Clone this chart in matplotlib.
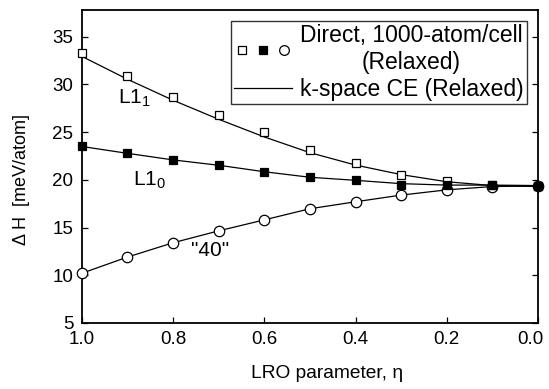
import matplotlib
matplotlib.use("Agg")
import matplotlib.pyplot as plt
from matplotlib.lines import Line2D
from matplotlib.legend_handler import HandlerTuple
import matplotlib.transforms as mtransforms

plt.rcParams['font.family'] = ['Liberation Sans', 'DejaVu Sans']
plt.rcParams['mathtext.fontset'] = 'custom'
plt.rcParams['mathtext.rm'] = 'Liberation Sans'
plt.rcParams['mathtext.it'] = 'Liberation Sans:italic'

eta = [1.0, 0.9, 0.8, 0.7, 0.6, 0.5, 0.4, 0.3, 0.2, 0.1, 0.0]
l11_direct = [33.25, 30.9, 28.64, 26.83, 24.98, 23.14, 21.8, 20.55, 19.85, 19.45, 19.35]
l11_ce = [32.95, 30.55, 28.35, 26.35, 24.5, 22.85, 21.55, 20.55, 19.8, 19.4, 19.3]
l10_direct = [23.5, 22.78, 22.09, 21.53, 20.85, 20.27, 19.95, 19.5, 19.45, 19.5, 19.4]
l10_ce = [23.5, 22.78, 22.09, 21.53, 20.85, 20.27, 19.95, 19.6, 19.45, 19.45, 19.4]
c40_direct = [10.2, 11.9, 13.4, 14.65, 15.8, 16.97, 17.7, 18.4, 18.95, 19.3, 19.35]
c40_ce = [10.2, 11.9, 13.4, 14.65, 15.8, 16.97, 17.7, 18.4, 18.95, 19.3, 19.35]

xticks = [1.0, 0.8, 0.6, 0.4, 0.2, 0.0]
yticks = [5, 10, 15, 20, 25, 30, 35]

fig = plt.figure(figsize=(5.49, 3.89), dpi=100)
ax = fig.add_axes([0.149, 0.170, 0.831, 0.804])

lw = 0.9
ax.plot(eta, l11_ce, color='black', lw=lw, zorder=2)
ax.plot(eta, l10_ce, color='black', lw=lw, zorder=2)
ax.plot(eta, c40_ce, color='black', lw=lw, zorder=2)

ax.plot(eta, c40_direct, ls='none', marker='o', ms=7.5, mfc='white', mec='black',
        mew=0.9, zorder=3, clip_on=False)
ax.plot(eta, l11_direct, ls='none', marker='s', ms=6.2, mfc='white', mec='black',
        mew=0.9, zorder=4, clip_on=False)
ax.plot(eta, l10_direct, ls='none', marker='s', ms=6.2, mfc='black', mec='black',
        mew=0.9, zorder=5, clip_on=False)

ax.set_xlim(1.0, 0.0)
ax.set_ylim(5, 37.8)
ax.set_xticks(xticks)
ax.set_xticklabels([f"{v:.1f}" for v in xticks])
ax.set_yticks(yticks)
ax.tick_params(direction='in', length=4, width=0.9, labelsize=13.5,
               right=True, top=False, pad=6)
for s in ax.spines.values():
    s.set_linewidth(1.3)

# shift last x tick label left so it stays within the figure
lbls = ax.get_xticklabels()
off = mtransforms.ScaledTranslation(-8 / 100, 0, fig.dpi_scale_trans)
lbls[-1].set_transform(lbls[-1].get_transform() + off)

ax.set_xlabel('LRO parameter, η', fontsize=13.8)
ax.set_ylabel('Δ H  [meV/atom]', fontsize=13)
ax.xaxis.set_label_coords(0.537, -0.135)
ax.yaxis.set_label_coords(-0.113, 0.46)

ax.text(0.921, 28.5, 'L1$_1$', fontsize=15, ha='left', va='center')
ax.text(0.888, 19.9, 'L1$_0$', fontsize=15, ha='left', va='center')
ax.text(0.761, 12.6, '"40"', fontsize=15, ha='left', va='center')

h_sq = Line2D([], [], ls='none', marker='s', ms=6.2, mfc='white', mec='black', mew=0.9)
h_fs = Line2D([], [], ls='none', marker='s', ms=6.2, mfc='black', mec='black', mew=0.9)
h_ci = Line2D([], [], ls='none', marker='o', ms=7, mfc='white', mec='black', mew=0.9)
h_ln = Line2D([], [], color='black', lw=lw)
leg = ax.legend([(h_sq, h_fs, h_ci), h_ln],
                ['Direct, 1000-atom/cell\n(Relaxed)', 'k-space CE (Relaxed)'],
                handler_map={tuple: HandlerTuple(ndivide=None, pad=0.25)},
                loc='upper right', bbox_to_anchor=(0.975, 0.965),
                fontsize=16.5, frameon=True, fancybox=False, edgecolor='black',
                handlelength=2.5, handletextpad=0.35, borderpad=0.15,
                labelspacing=0.15, borderaxespad=0.0)
leg.get_frame().set_linewidth(1.0)
for t in leg.get_texts():
    t.set_multialignment('center')
leg.set_zorder(10)

fig.savefig('out.png', dpi=100)
